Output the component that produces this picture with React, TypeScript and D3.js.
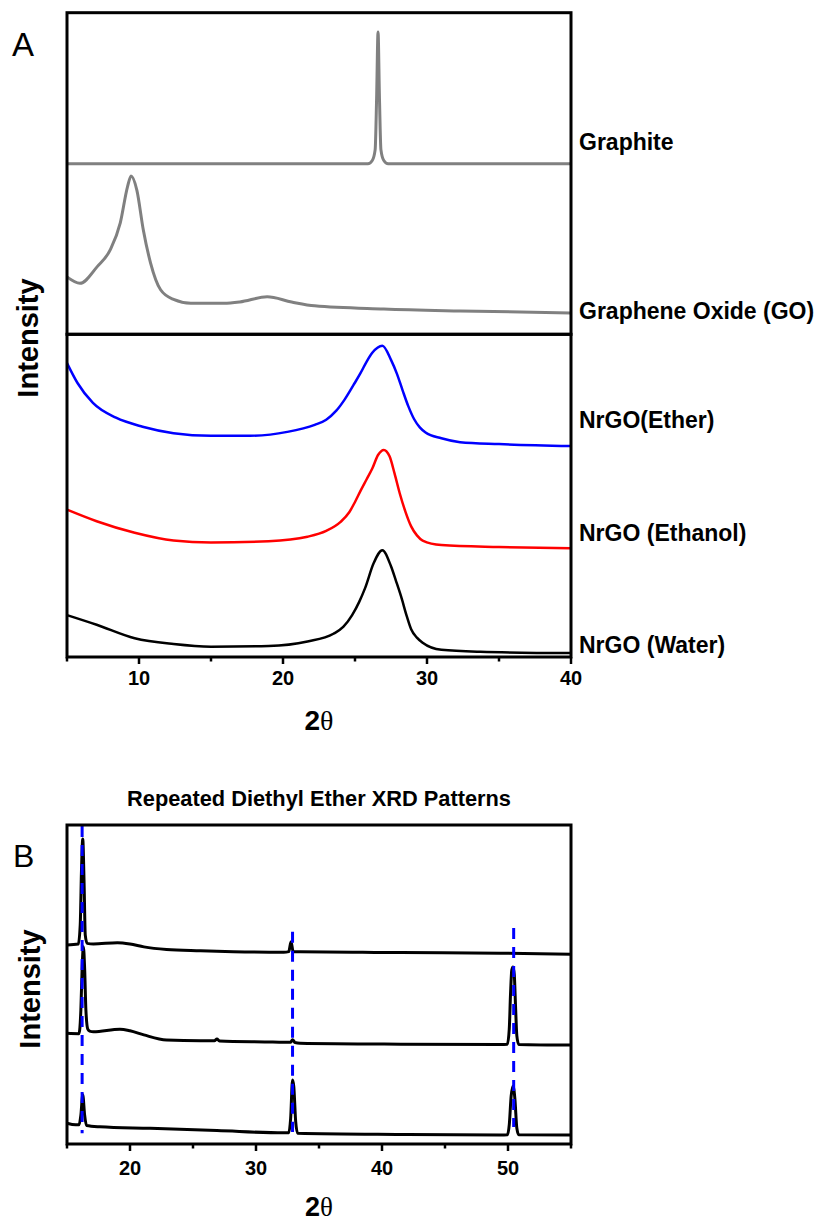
import React from 'react';
import * as d3 from 'd3';

type P = [number, number];

// ---------- Panel A data (2θ, offset intensity a.u.) ----------
const graphite: P[] = [[5, 76.4], [25.9, 76.4], [26.2, 76.9], [26.4, 78.6], [26.5, 86.5], [26.6, 96.9], [26.7, 86.5], [26.8, 78.6], [27.0, 76.9], [27.3, 76.4], [40, 76.4]];
const grapheneOxide: P[] = [[5.0, 58.8], [5.9, 57.8], [7.1, 60.4], [8.0, 63.0], [8.7, 67.2], [9.2, 72.8], [9.45, 74.5], [9.85, 72.3], [10.3, 66.1], [10.8, 61.0], [11.5, 56.8], [12.4, 55.3], [13.6, 54.7], [15.9, 54.7], [17.0, 54.9], [18.9, 55.7], [20.6, 54.9], [22.2, 54.3], [27, 53.8], [32.3, 53.5], [40, 53.2]];
const nrgoEther: P[] = [[5, 45.4], [5.73, 42.3], [6.8, 39.2], [8.4, 36.9], [10.25, 35.5], [12.4, 34.5], [15.0, 34.1], [17.7, 34.1], [20.3, 34.7], [22.2, 35.8], [23.0, 36.6], [23.7, 38.0], [24.3, 39.8], [24.9, 42.0], [25.4, 43.9], [25.8, 45.6], [26.2, 47.0], [26.9, 48.1], [27.5, 45.9], [27.9, 43.8], [28.3, 41.2], [28.7, 38.7], [29.1, 36.7], [29.5, 35.4], [29.9, 34.6], [31.0, 33.7], [32.3, 33.1], [35, 32.8], [40, 32.5]];
const nrgoEthanol: P[] = [[5, 22.6], [7.06, 20.8], [9.7, 19.0], [12.4, 17.8], [15.0, 17.5], [19.0, 17.7], [21.7, 18.4], [23.0, 19.3], [24.0, 20.7], [24.6, 22.2], [25.0, 23.8], [25.4, 25.6], [25.8, 27.3], [26.2, 29.0], [26.6, 31.1], [27.0, 31.9], [27.4, 30.9], [27.75, 28.2], [28.1, 25.2], [28.5, 22.3], [28.9, 20.0], [29.3, 18.6], [29.7, 17.8], [31.0, 17.1], [35, 16.8], [40, 16.6]];
const nrgoWater: P[] = [[5, 6.2], [7.06, 4.7], [9.7, 2.6], [12.4, 1.7], [15.0, 1.3], [19.0, 1.4], [21.7, 2.1], [23.5, 3.3], [24.2, 4.4], [24.8, 6.2], [25.3, 8.3], [25.7, 10.4], [26.3, 14.3], [26.9, 16.3], [27.5, 13.8], [27.85, 11.5], [28.2, 9.1], [28.6, 6.0], [28.9, 4.0], [29.3, 2.7], [29.7, 1.9], [31.0, 0.8], [33.7, 0.5], [40, 0.3]];

const seriesANames = ['Graphite', 'Graphene Oxide (GO)', 'NrGO(Ether)', 'NrGO (Ethanol)', 'NrGO (Water)'];
const seriesAData = [graphite, grapheneOxide, nrgoEther, nrgoEthanol, nrgoWater];
const seriesAColors = ['#808080', '#808080', '#0000ff', '#ff0000', '#000000'];

// ---------- Panel B data ----------
const etherRun1: P[] = [[15.0, 62.4], [15.9, 62.7], [16.05, 68.7], [16.15, 85.9], [16.25, 95.6], [16.35, 82.8], [16.45, 65.5], [16.6, 62.9], [17.1, 62.7], [19.0, 63.1], [20.0, 62.7], [21.1, 61.8], [22.9, 61.0], [25.6, 60.6], [28.2, 60.3], [32.2, 60.1], [32.6, 60.3], [32.78, 63.4], [32.95, 60.3], [33.5, 60.3], [41.5, 60.0], [49.4, 59.8], [55, 59.5]];
const etherRun2: P[] = [[15.0, 34.7], [15.95, 34.6], [16.1, 42], [16.2, 55], [16.3, 61.8], [16.4, 55], [16.5, 42], [16.65, 36], [16.8, 35.4], [17.1, 35.2], [19.2, 36.0], [20.0, 35.5], [21.1, 34.2], [22.9, 32.6], [25.6, 32.4], [26.7, 32.4], [26.9, 32.9], [27.1, 32.3], [30.9, 32.0], [32.2, 31.9], [32.75, 31.9], [32.9, 32.7], [33.1, 31.8], [33.5, 31.6], [41.5, 31.3], [49.4, 31.2], [49.95, 31.3], [50.1, 36], [50.2, 47], [50.3, 54.5], [50.4, 55.5], [50.5, 53], [50.6, 43], [50.7, 34], [50.85, 31.2], [55, 31.0]];
const etherRun3: P[] = [[15.0, 6.5], [15.7, 6.0], [15.95, 6.0], [16.1, 9], [16.25, 15.4], [16.4, 9], [16.55, 5.8], [17.6, 5.4], [21.6, 4.9], [26.9, 4.2], [32.2, 3.5], [32.6, 3.5], [32.75, 8], [32.9, 20.1], [33.0, 18], [33.15, 7], [33.3, 3.4], [41.5, 3.0], [49.4, 2.8], [49.95, 2.9], [50.1, 6], [50.25, 15], [50.4, 18.2], [50.55, 14], [50.7, 5], [50.85, 2.9], [55, 2.8]];
const seriesBData = [etherRun1, etherRun2, etherRun3];

const refPeaks = [16.2, 32.9, 50.45];
const refTop = [99.7, 66.5, 67.7];
const refBottom = [3.4, 3.8, 5.3];

const FONT = "'Liberation Sans', Arial, Helvetica, sans-serif";

export default function App() {
  const L = 67, R = 571;
  const aTop = 12.7, aMid = 334.3, aBot = 657;
  const bTop = 825, bBot = 1144;

  const xA = d3.scaleLinear().domain([5, 40]).range([L, R]);
  const yA = d3.scaleLinear().domain([0, 100]).range([655, 12]);
  const xB = d3.scaleLinear().domain([15, 55]).range([L, R]);
  const yB = d3.scaleLinear().domain([0, 100]).range([bBot, bTop]);

  const lineA = d3.line<P>().x(d => xA(d[0])).y(d => yA(d[1])).curve(d3.curveMonotoneX);
  const lineB = d3.line<P>().x(d => xB(d[0])).y(d => yB(d[1])).curve(d3.curveMonotoneX);

  const labelBaselines = [149.5, 318.5, 427.5, 540.5, 652.5];
  const widthsA = [3, 3, 2.5, 2.5, 2.5];

  const ticksA = xA.ticks(7);
  const ticksB = xB.ticks(8);

  return (
    <svg width={823} height={1224} style={{ position: 'absolute', left: 0, top: 0, background: '#fff' }} fontFamily={FONT}>
      <rect x={0} y={0} width={823} height={1224} fill="#fff" />
      {/* Panel A */}
      <text x={12} y={56} fontSize={33}>A</text>
      {seriesAData.map((d, i) => (
        <path key={i} d={lineA(d) || ''} fill="none" stroke={seriesAColors[i]} strokeWidth={widthsA[i]} strokeLinejoin="round" />
      ))}
      <rect x={L} y={aTop} width={R - L} height={aMid - aTop} fill="none" stroke="#000" strokeWidth={3} />
      <rect x={L} y={aMid} width={R - L} height={aBot - aMid} fill="none" stroke="#000" strokeWidth={3} />
      {ticksA.map(t => {
        const major = t % 10 === 0;
        return (
          <g key={t}>
            <line x1={xA(t)} x2={xA(t)} y1={aBot} y2={aBot + (major ? 7 : 4.5)} stroke="#000" strokeWidth={2.5} />
            {major && <text x={xA(t)} y={685} fontSize={20} fontWeight="bold" textAnchor="middle">{t}</text>}
          </g>
        );
      })}
      {seriesANames.map((n, i) => (
        <text key={n} x={579} y={labelBaselines[i]} fontSize={23} fontWeight="bold">{n}</text>
      ))}
      <text x={319} y={730} fontSize={28} fontWeight="bold" textAnchor="middle">2<tspan fontFamily="'Liberation Serif', serif" fontWeight="normal">θ</tspan></text>
      <text transform="translate(38,338) rotate(-90)" fontSize={29} fontWeight="bold" textAnchor="middle">Intensity</text>

      {/* Panel B */}
      <text x={319} y={806} fontSize={21.8} fontWeight="bold" textAnchor="middle">Repeated Diethyl Ether XRD Patterns</text>
      <text x={13} y={867} fontSize={32}>B</text>
      {seriesBData.map((d, i) => (
        <path key={i} d={lineB(d) || ''} fill="none" stroke="#000" strokeWidth={3} strokeLinejoin="round" />
      ))}
      {refPeaks.map((p, i) => (
        <line key={p} x1={xB(p)} x2={xB(p)} y1={yB(refTop[i])} y2={yB(refBottom[i])} stroke="#0000ff" strokeWidth={3} strokeDasharray="11 8" />
      ))}
      <rect x={L} y={bTop} width={R - L} height={bBot - bTop} fill="none" stroke="#000" strokeWidth={3} />
      {ticksB.map(t => {
        const major = t % 10 === 0;
        return (
          <g key={t}>
            <line x1={xB(t)} x2={xB(t)} y1={bBot} y2={bBot + (major ? 7 : 4.5)} stroke="#000" strokeWidth={2.5} />
            {major && <text x={xB(t)} y={1175} fontSize={20} fontWeight="bold" textAnchor="middle">{t}</text>}
          </g>
        );
      })}
      <text x={319} y={1216} fontSize={27} fontWeight="bold" textAnchor="middle">2<tspan fontFamily="'Liberation Serif', serif" fontWeight="normal">θ</tspan></text>
      <text transform="translate(40,989) rotate(-90)" fontSize={29} fontWeight="bold" textAnchor="middle">Intensity</text>
    </svg>
  );
}
